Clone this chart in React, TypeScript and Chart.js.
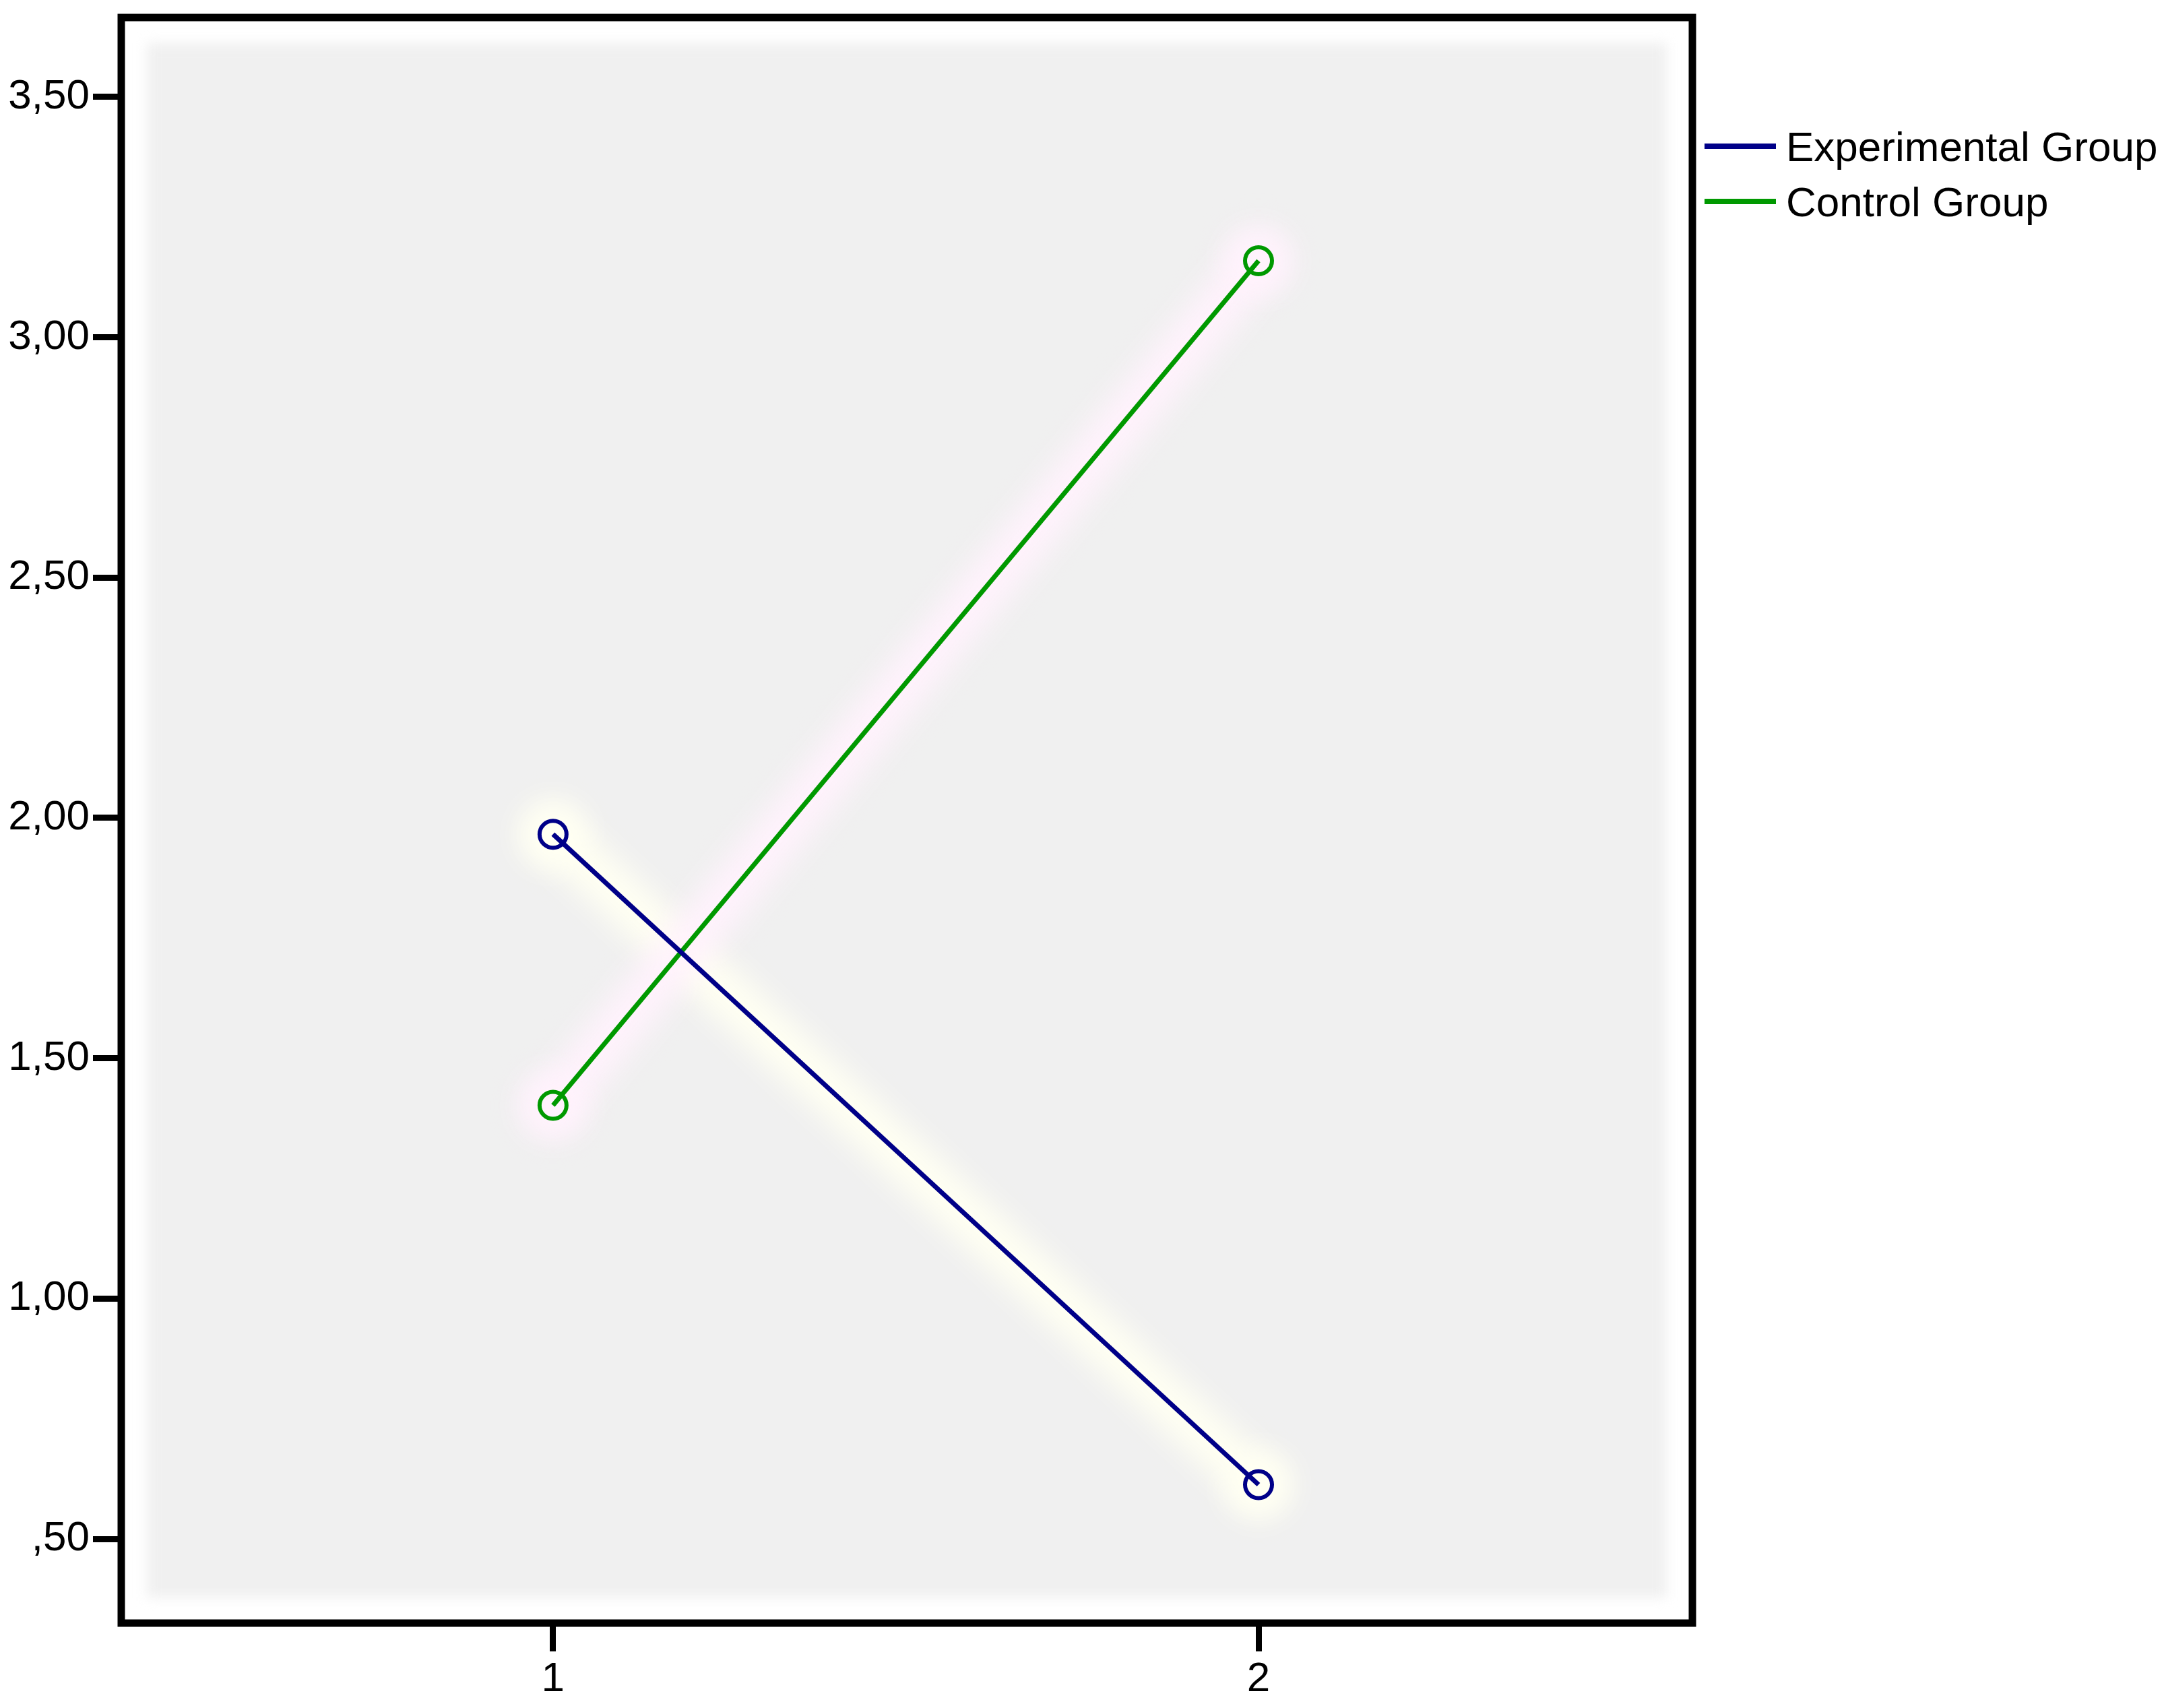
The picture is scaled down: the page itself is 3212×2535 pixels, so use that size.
import React, { useEffect, useRef } from 'react';
import { Chart, registerables } from 'chart.js';

Chart.register(...registerables);

// ---- data ----
const xCategories = [1, 2];
const xTickLabels = ['1', '2'];
const seriesLabels = ['Experimental Group', 'Control Group'];
const experimentalValues = [1.966, 0.613];
const controlValues = [1.402, 3.159];
const yTickValues = [0.5, 1, 1.5, 2, 2.5, 3, 3.5];
const yTickLabels = [',50', '1,00', '1,50', '2,00', '2,50', '3,00', '3,50'];

const seriesColors = ['#000088', '#009900'];
const haloColors = ['rgba(255,255,242,1)', 'rgba(255,242,252,1)'];
const FONT = '"Liberation Sans", Arial, sans-serif';

export default function App() {
  const ref = useRef<HTMLCanvasElement>(null);

  useEffect(() => {
    document.body.style.margin = '0';
    const canvas = ref.current!;

    const decor = {
      id: 'decor',
      beforeDraw(chart: any) {
        const { ctx, chartArea: a } = chart;
        ctx.save();
        ctx.fillStyle = '#ffffff';
        ctx.fillRect(0, 0, chart.width, chart.height);
        ctx.filter = 'blur(9px)';
        ctx.fillStyle = '#f0f0f0';
        const inset = 38;
        ctx.fillRect(a.left + inset, a.top + inset, a.width - 2 * inset, a.height - 2 * inset);
        ctx.restore();
      },
      beforeDatasetsDraw(chart: any) {
        const { ctx } = chart;
        chart.data.datasets.forEach((_: any, i: number) => {
          const pts = chart.getDatasetMeta(i).data;
          ctx.save();
          ctx.filter = 'blur(22px)';
          ctx.strokeStyle = haloColors[i];
          ctx.fillStyle = haloColors[i];
          ctx.lineWidth = 70;
          ctx.lineCap = 'round';
          ctx.beginPath();
          pts.forEach((p: any, k: number) => (k === 0 ? ctx.moveTo(p.x, p.y) : ctx.lineTo(p.x, p.y)));
          ctx.stroke();
          pts.forEach((p: any) => {
            ctx.beginPath();
            ctx.arc(p.x, p.y, 50, 0, Math.PI * 2);
            ctx.fill();
          });
          ctx.restore();
        });
      },
      afterDraw(chart: any) {
        const { ctx, chartArea: a } = chart;
        ctx.save();
        ctx.strokeStyle = '#000000';
        ctx.lineWidth = 11;
        ctx.strokeRect(a.left, a.top, a.width, a.height);
        // legend
        ctx.font = `62px ${FONT}`;
        ctx.textBaseline = 'middle';
        ctx.textAlign = 'left';
        chart.data.datasets.forEach((ds: any, i: number) => {
          const y = a.top + 196 + i * 82;
          ctx.strokeStyle = ds.borderColor;
          ctx.lineWidth = 8;
          ctx.beginPath();
          ctx.moveTo(a.right + 18, y - 5);
          ctx.lineTo(a.right + 124, y - 5);
          ctx.stroke();
          ctx.fillStyle = '#000000';
          ctx.fillText(ds.label, a.right + 139, y);
        });
        ctx.restore();
      },
    };

    const mk = (vals: number[]) => xCategories.map((x, i) => ({ x, y: vals[i] }));

    const chart = new Chart(canvas, {
      type: 'line',
      data: {
        datasets: [
          {
            label: seriesLabels[0],
            data: mk(experimentalValues),
            borderColor: seriesColors[0],
            backgroundColor: 'transparent',
            borderWidth: 7,
            pointRadius: 20,
            pointBorderWidth: 6,
            pointBorderColor: seriesColors[0],
            pointBackgroundColor: 'transparent',
          },
          {
            label: seriesLabels[1],
            data: mk(controlValues),
            borderColor: seriesColors[1],
            backgroundColor: 'transparent',
            borderWidth: 7,
            pointRadius: 20,
            pointBorderWidth: 6,
            pointBorderColor: seriesColors[1],
            pointBackgroundColor: 'transparent',
          },
        ],
      },
      options: {
        responsive: false,
        animation: false,
        devicePixelRatio: 1,
        layout: { padding: { left: 0, top: 25, right: 700, bottom: 0 } },
        plugins: { legend: { display: false }, tooltip: { enabled: false } },
        scales: {
          x: {
            type: 'linear',
            min: 0.388,
            max: 2.615,
            afterBuildTicks: (s: any) => {
              s.ticks = xCategories.map((v) => ({ value: v }));
            },
            afterFit: (s: any) => {
              s.height = 126;
              s.paddingLeft = 0;
              s.paddingRight = 0;
            },
            grid: {
              drawOnChartArea: false,
              drawTicks: true,
              tickLength: 42,
              tickWidth: 9,
              tickColor: '#000000',
            },
            border: { display: false },
            ticks: {
              autoSkip: false,
              maxRotation: 0,
              padding: 5,
              color: '#000000',
              font: { family: FONT, size: 62 },
              callback: (v: any) => {
                const i = xCategories.indexOf(Number(v));
                return i >= 0 ? xTickLabels[i] : '';
              },
            },
          },
          y: {
            type: 'linear',
            min: 0.325,
            max: 3.665,
            afterBuildTicks: (s: any) => {
              s.ticks = yTickValues.map((v) => ({ value: v }));
            },
            afterFit: (s: any) => {
              s.width = 180;
              s.paddingTop = 0;
              s.paddingBottom = 0;
            },
            grid: {
              drawOnChartArea: false,
              drawTicks: true,
              tickLength: 42,
              tickWidth: 9,
              tickColor: '#000000',
            },
            border: { display: false },
            ticks: {
              autoSkip: false,
              padding: 5,
              color: '#000000',
              font: { family: FONT, size: 62 },
              callback: (v: any) => {
                const i = yTickValues.findIndex((t) => Math.abs(t - Number(v)) < 1e-9);
                return i >= 0 ? yTickLabels[i] : '';
              },
            },
          },
        },
      },
      plugins: [decor],
    } as any);

    return () => chart.destroy();
  }, []);

  return <canvas ref={ref} width={3212} height={2535} style={{ display: 'block' }} />;
}
